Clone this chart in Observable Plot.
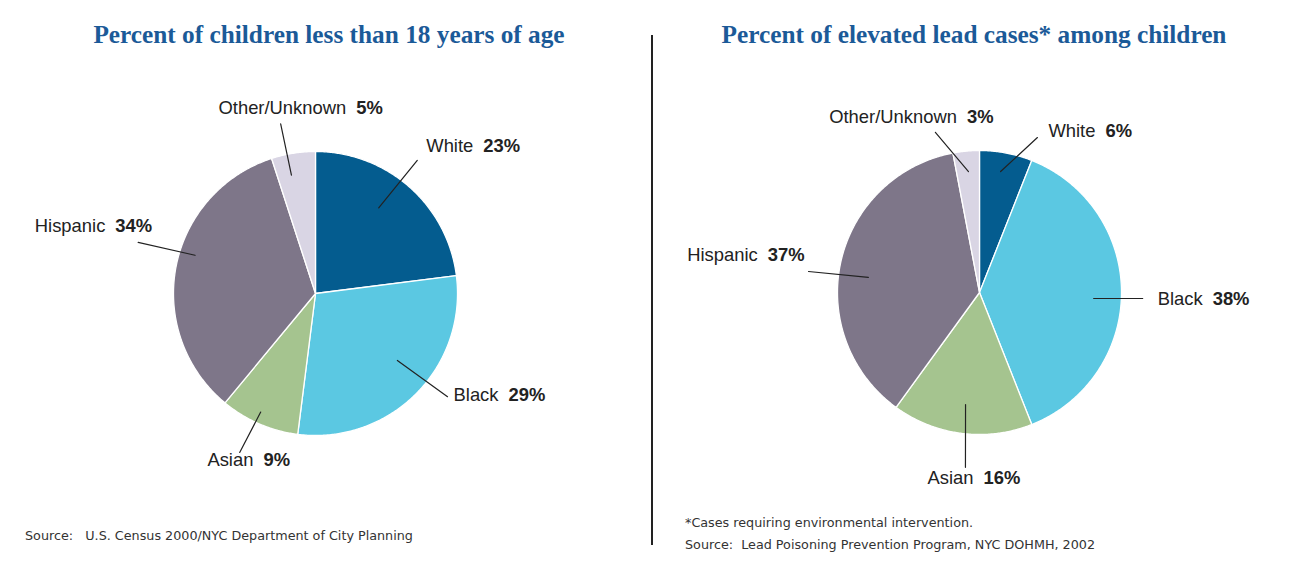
<!DOCTYPE html>
<html><head><meta charset="utf-8">
<script src="https://cdn.jsdelivr.net/npm/d3@7"></script>
<script src="https://cdn.jsdelivr.net/npm/@observablehq/plot@0.6"></script>
<style>
html,body{margin:0;padding:0;background:#fff;}
#wrap{position:relative;width:1299px;height:561px;overflow:hidden;}
.title{position:absolute;top:19px;line-height:30px;font-family:"Liberation Serif","Times New Roman",serif;font-weight:bold;font-size:25.3px;color:#1b5a98;text-align:center;white-space:nowrap;}
.chart{position:absolute;top:60px;}
.note{position:absolute;font-family:"DejaVu Sans",sans-serif;font-size:12.75px;color:#333;white-space:pre;line-height:14px;}
#divider{position:absolute;left:651px;top:35px;width:1.5px;height:510px;background:#222;}
</style>
</head><body>
<div id="wrap">
  <div class="title" style="left:0;width:658px;">Percent of children less than 18 years of age</div>
  <div class="title" style="left:652px;width:644px;">Percent of elevated lead cases* among children</div>
  <div id="left" class="chart" style="left:0;"></div>
  <div id="right" class="chart" style="left:652px;"></div>
  <div id="divider"></div>
  <div class="note" style="left:25px;top:529px;">Source:   U.S. Census 2000/NYC Department of City Planning</div>
  <div class="note" style="left:685px;top:516px;">*Cases requiring environmental intervention.</div>
  <div class="note" style="left:685px;top:538px;">Source:  Lead Poisoning Prevention Program, NYC DOHMH, 2002</div>
</div>
<script>
// ---- data ----
const categories = ["White", "Black", "Asian", "Hispanic", "Other/Unknown"];
const childrenShare = [23, 29, 9, 34, 5];      // % of children < 18
const leadCaseShare = [6, 38, 16, 37, 3];      // % of elevated lead cases
const categoryColors = ["#045c8f", "#5bc8e2", "#a5c48f", "#7e7689", "#d9d5e4"];

// ---- label layout (leader-line angle offsets from slice mid-angle, radii as fraction of R, text offsets) ----
const leftLayout = {
  "White":         {d0: -5,  d1: -4,  r0: 0.75, r1: 1.18, anchor: "start",  dx: 9,   dy: -14},
  "Black":         {d0: -5.7,d1: -7,  r0: 0.745,r1: 1.18, anchor: "start",  dx: 6,   dy: -1.5},
  "Asian":         {d0: 1.4, d1: 2.1, r0: 0.92, r1: 1.24, anchor: "middle", dx: 9,   dy: 8},
  "Hispanic":      {d0: 6.8, d1: 5.3, r0: 0.89, r1: 1.30, anchor: "end",    dx: 14,  dy: -16},
  "Other/Unknown": {d0: -2.5,d1: -2.6,r0: 0.85, r1: 1.22, anchor: "middle", dx: 20,  dy: -15.5}
};
const rightLayout = {
  "White":         {d0: -0.9,d1: 9.7, r0: 0.865,r1: 1.165,anchor: "start",  dx: 11,  dy: -6},
  "Black":         {d0: 3,   d1: 2.1, r0: 0.805,r1: 1.15, anchor: "start",  dx: 15,  dy: 1},
  "Asian":         {d0: -0.1,d1: -2.6,r0: 0.795,r1: 1.235,anchor: "middle", dx: 8.5, dy: 11},
  "Hispanic":      {d0: -4.9,d1: -5.6,r0: 0.79, r1: 1.213,anchor: "end",    dx: -4,  dy: -16},
  "Other/Unknown": {d0: 0.2, d1: -10, r0: 0.855,r1: 1.17, anchor: "middle", dx: -24, dy: -15}
};

const LABEL_FONT = 18.4;
const GAP = 10;
const canvas = document.createElement("canvas");
const ctx = canvas.getContext("2d");
function textWidth(s, bold) {
  ctx.font = `${bold ? "bold " : ""}${LABEL_FONT}px "Liberation Sans", Arial, sans-serif`;
  return ctx.measureText(s).width;
}

function pieChart(values, layout, {width, height, cx, cy, R}) {
  const rows = categories.map((c, i) => ({category: c, value: values[i]}));
  const arcs = d3.pie().sort(null).value(d => d.value)(rows);
  const rad = Math.PI / 180;
  const pt = (a, r) => [cx + r * Math.sin(a), cy - r * Math.cos(a)];
  const slices = arcs.map(a => {
    const n = Math.max(4, Math.ceil((a.endAngle - a.startAngle) / (0.5 * rad)));
    const ring = [[cx, cy]];
    for (let k = 0; k <= n; k++) ring.push(pt(a.startAngle + (a.endAngle - a.startAngle) * k / n, R));
    ring.push([cx, cy]);
    return {type: "Feature", properties: {category: a.data.category}, geometry: {type: "Polygon", coordinates: [ring]}};
  });
  const leaders = [], names = [], vals = [];
  arcs.forEach(a => {
    const L = layout[a.data.category];
    const mid = (a.startAngle + a.endAngle) / 2;
    const p0 = pt(mid + L.d0 * rad, L.r0 * R);
    const p1 = pt(mid + L.d1 * rad, L.r1 * R);
    leaders.push({type: "Feature", properties: {}, geometry: {type: "LineString", coordinates: [p0, p1]}});
    const name = a.data.category, val = `${a.data.value}%`;
    const wn = textWidth(name, false), wv = textWidth(val, true);
    const tx = p1[0] + L.dx, ty = p1[1] + L.dy;
    let start;
    if (L.anchor === "start") start = tx;
    else if (L.anchor === "end") start = tx - (wn + GAP + wv);
    else start = tx - (wn + GAP + wv) / 2;
    names.push({x: start, y: ty, text: name});
    vals.push({x: start + wn + GAP, y: ty, text: val});
  });
  return Plot.plot({
    width, height, margin: 0,
    projection: {type: "identity"},
    color: {type: "ordinal", domain: categories, range: categoryColors},
    marks: [
      Plot.geo(slices, {fill: d => d.properties.category, stroke: "white", strokeWidth: 1.3}),
      Plot.geo(leaders, {stroke: "#222", strokeWidth: 1.2, fill: "none"}),
      Plot.text(names, {x: "x", y: "y", text: "text", textAnchor: "start", fontSize: LABEL_FONT, fill: "#222", fontFamily: "Liberation Sans, Arial, sans-serif"}),
      Plot.text(vals, {x: "x", y: "y", text: "text", textAnchor: "start", fontSize: LABEL_FONT, fontWeight: "bold", fill: "#222", fontFamily: "Liberation Sans, Arial, sans-serif"})
    ]
  });
}

document.getElementById("left").append(pieChart(childrenShare, leftLayout, {width: 650, height: 450, cx: 315, cy: 233, R: 142}));
document.getElementById("right").append(pieChart(leadCaseShare, rightLayout, {width: 647, height: 450, cx: 327, cy: 232, R: 142}));
</script>
</body></html>
